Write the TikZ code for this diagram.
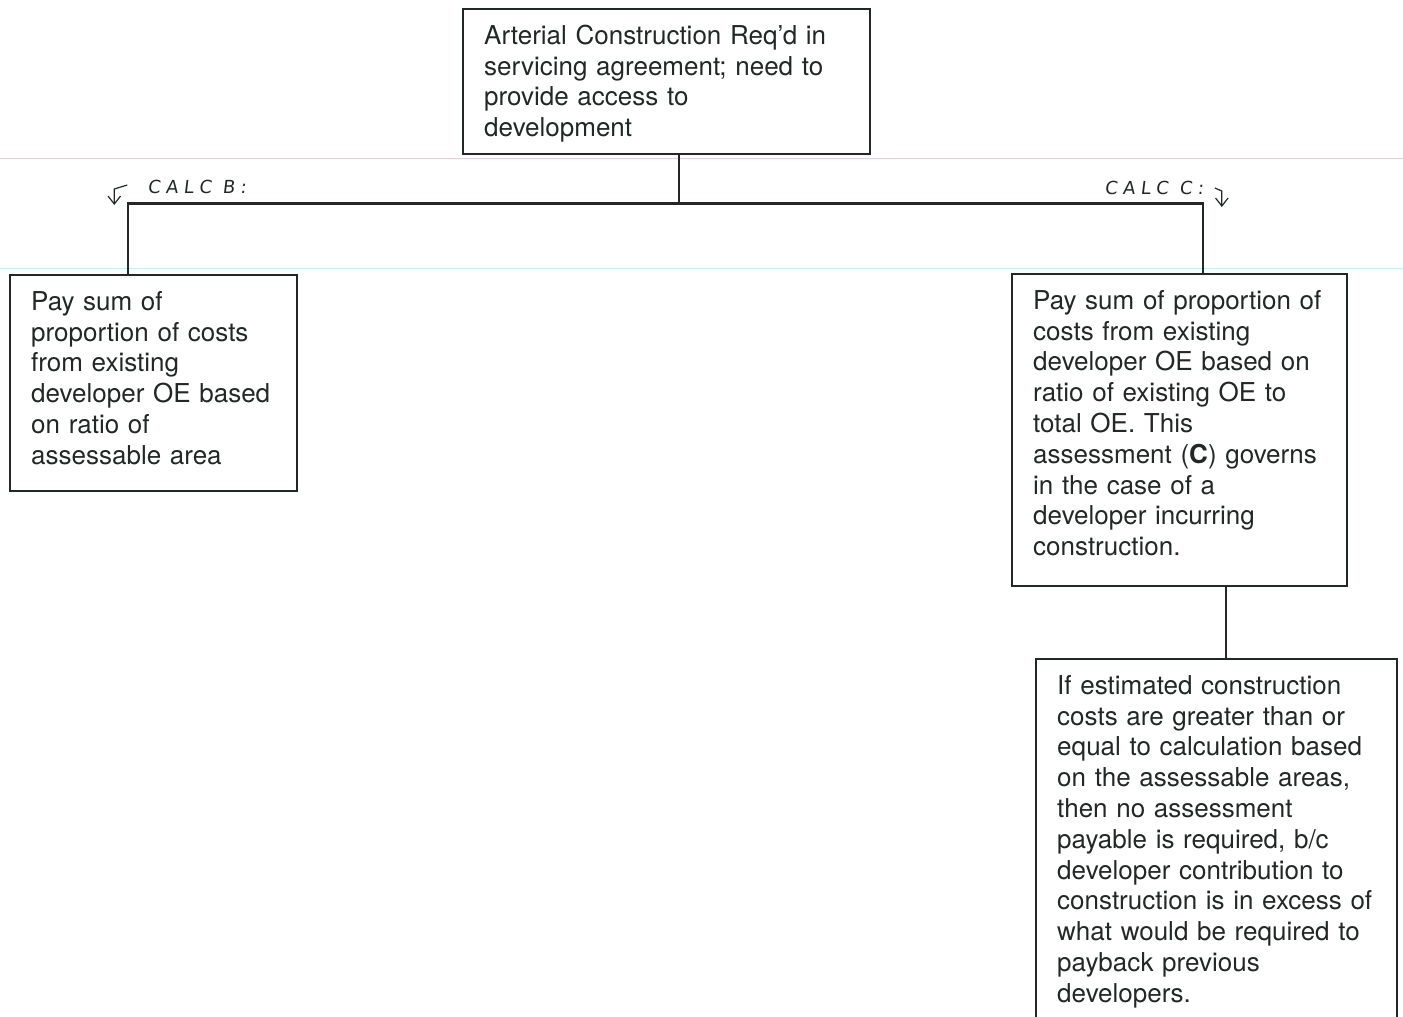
\documentclass[tikz,border=0pt]{standalone}
\usepackage{fontspec}
\setmainfont{TeX Gyre Heros}
\newfontfamily\handfont[LetterSpace=30,FakeSlant=0.12]{DejaVu Sans}
\usetikzlibrary{arrows.meta, calc}
\definecolor{InkGray}{RGB}{34, 40, 38}
\definecolor{ScanPink}{RGB}{234, 200, 242}
\definecolor{ScanCyan}{RGB}{200, 236, 242}

\begin{document}
\begin{tikzpicture}[x=0.5pt, y=-0.5pt,
        box/.style={rectangle, draw=InkGray, line width=1.2pt, anchor=north west, align=left,
            inner xsep=10.5pt, inner ysep=0pt, text height=17.5pt, text=InkGray,
            font=\fontsize{13}{15.4}\selectfont},
        link/.style={draw=InkGray, line width=1.2pt},
        hand/.style={font=\handfont\fontsize{9}{10}\selectfont, text=InkGray, inner sep=0pt},
        tick/.style={-{Straight Barb[length=1.4mm, width=2.2mm]}, line width=0.6pt, InkGray}
    ]
    \useasboundingbox (0,0) rectangle (1403,1017);

    % faint scan guide lines
    \draw[ScanPink, line width=0.4pt] (0,158) -- (1403,158);
    \draw[ScanCyan, line width=0.4pt] (0,268) -- (1403,268);

    % Boxes
    \node[box, text width=182.5pt, text depth=55pt] (top) at (462,8)
        {Arterial Construction Req'd in\\servicing agreement; need to\\provide access to\\development};
    \node[box, text width=122.5pt, text depth=90.5pt] (lbox) at (9,274)
        {Pay sum of\\proportion of costs\\from existing\\developer OE based\\on ratio of\\assessable area};
    \node[box, text width=146.5pt, text depth=138.5pt] (rbox) at (1011,273)
        {Pay sum of proportion of\\costs from existing\\developer OE based on\\ratio of existing OE to\\total OE. This\\assessment (\textbf{C}) governs\\in the case of a\\developer incurring\\construction.};
    \node[box, text width=159.5pt, text depth=168.5pt] (bbox) at (1035,658)
        {If estimated construction\\costs are greater than or\\equal to calculation based\\on the assessable areas,\\then no assessment\\payable is required, b/c\\developer contribution to\\construction is in excess~of\\what would be required to\\payback previous\\developers.};

    % Connectors
    \coordinate (tdrop) at ([xshift=108.5pt]top.south west);
    \draw[link] (tdrop) -- ++(0,48) coordinate (bus);
    \draw[link] ([xshift=59.5pt]lbox.north west) |- (bus) -| ([xshift=96pt]rbox.north west);
    \coordinate (cdrop) at ([xshift=107.5pt]rbox.south west);
    \draw[link] (cdrop) -- (cdrop |- bbox.north);

    % handwritten notes
    \node[hand] (calcb) at (197,187) {CALC B:};
    \node[hand] (calcc) at (1154,188) {CALC C:};
    \coordinate (btick) at ([xshift=-10pt,yshift=1pt]calcb.west);
    \draw[tick] (btick) -- ++(-13,4) -- ++(0,16);
    \coordinate (ctick) at ([xshift=5.5pt]calcc.east);
    \draw[tick] (ctick) -- ++(7,3) -- ++(0,16);
\end{tikzpicture}
\end{document}
